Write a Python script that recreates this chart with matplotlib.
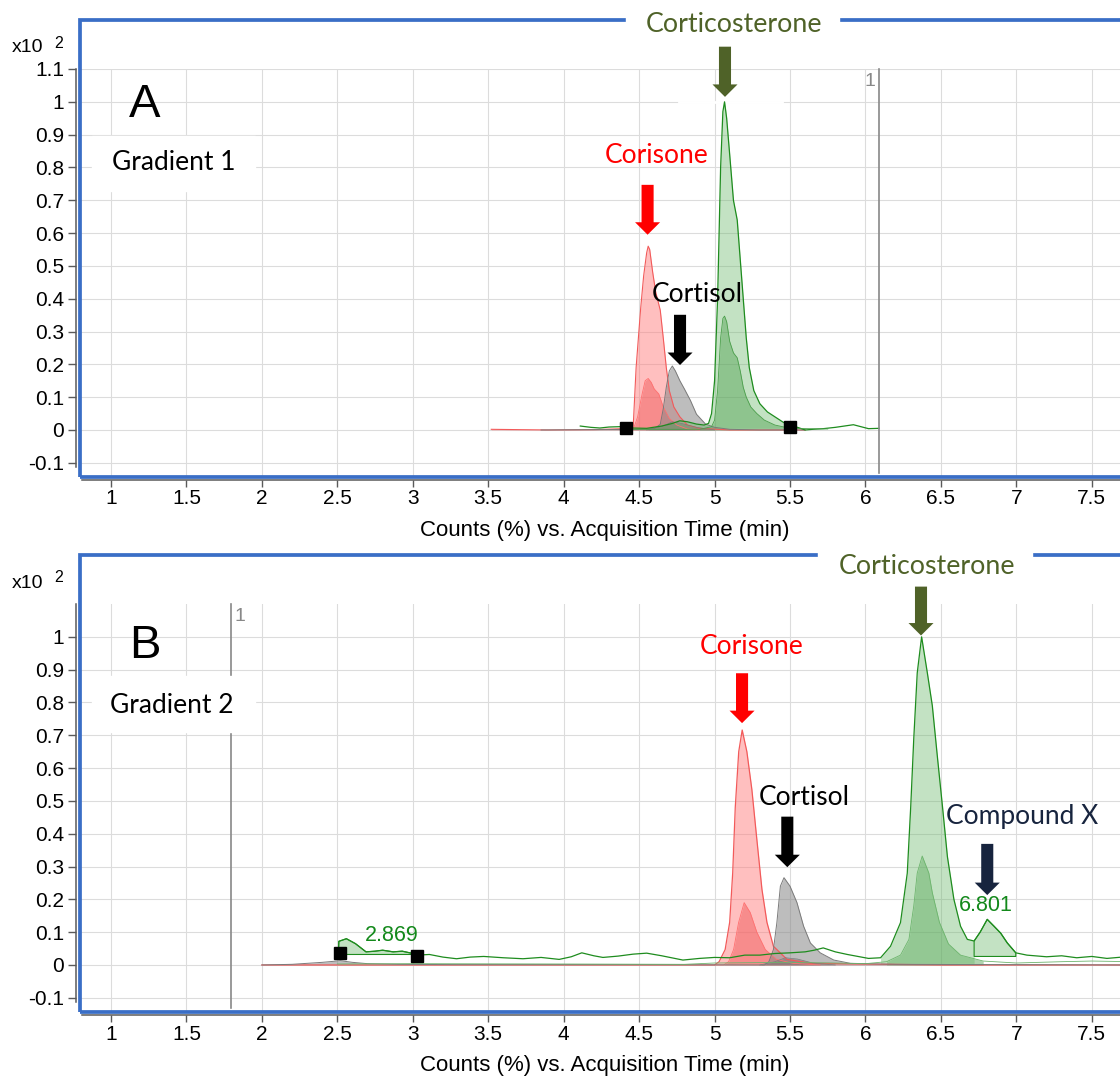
import numpy as np
import matplotlib.pyplot as plt
from matplotlib.patches import Rectangle, FancyArrow

plt.rcParams["font.family"] = ["Liberation Sans", "DejaVu Sans"]
NOTE_FONT = ["Lato", "DejaVu Sans"]

X_TICKS = [1, 1.5, 2, 2.5, 3, 3.5, 4, 4.5, 5, 5.5, 6, 6.5, 7, 7.5]
Y_TICKS_A = [-0.1, 0, 0.1, 0.2, 0.3, 0.4, 0.5, 0.6, 0.7, 0.8, 0.9, 1.0, 1.1]
Y_TICKS_B = [-0.1, 0, 0.1, 0.2, 0.3, 0.4, 0.5, 0.6, 0.7, 0.8, 0.9, 1.0]
XLABEL = "Counts (%) vs. Acquisition Time (min)"

# ---------------- Panel A (Gradient 1): time (min) / counts (x10^2 %) ----------------
a_cortisone_t = [3.52, 3.9, 4.2, 4.46, 4.48, 4.50, 4.51, 4.53, 4.55, 4.56, 4.57, 4.59, 4.61,
                 4.64, 4.66, 4.68, 4.70, 4.73, 4.77, 4.82, 4.90, 5.1, 5.4, 5.6]
a_cortisone_v = [0.002, 0.0, 0.001, 0.005, 0.19, 0.31, 0.37, 0.47, 0.54, 0.56, 0.55, 0.48, 0.42,
                 0.365, 0.28, 0.19, 0.12, 0.07, 0.04, 0.015, 0.005, 0.0, 0.0, 0.0]
a_cortisone2_t = [4.46, 4.49, 4.52, 4.54, 4.56, 4.58, 4.60, 4.63, 4.66, 4.70, 4.75, 4.82, 4.90]
a_cortisone2_v = [0.0, 0.04, 0.11, 0.15, 0.157, 0.145, 0.125, 0.11, 0.07, 0.035, 0.015, 0.003, 0.0]

a_cortisol_t = [3.85, 4.2, 4.5, 4.60, 4.64, 4.66, 4.68, 4.70, 4.72, 4.74, 4.77, 4.80, 4.84,
                4.88, 4.94, 5.00, 5.10, 5.3, 5.6]
a_cortisol_v = [0.0, 0.001, 0.002, 0.004, 0.017, 0.065, 0.13, 0.18, 0.195, 0.18, 0.15, 0.125, 0.09,
                0.048, 0.018, 0.008, 0.002, 0.0, 0.0]
a_cortisol2_t = [4.55, 4.65, 4.72, 4.78, 4.88, 5.0]
a_cortisol2_v = [0.0, 0.01, 0.025, 0.02, 0.008, 0.0]

a_cortico_t = [4.11, 4.18, 4.24, 4.30, 4.37, 4.45, 4.55, 4.65, 4.72, 4.77, 4.82, 4.88, 4.93,
               4.96, 4.98, 5.00, 5.02, 5.04, 5.055, 5.066, 5.08, 5.10, 5.125, 5.15, 5.17, 5.19,
               5.21, 5.23, 5.26, 5.30, 5.35, 5.40, 5.45, 5.50, 5.55, 5.60, 5.65, 5.72, 5.80,
               5.86, 5.92, 5.97, 6.02, 6.09]
a_cortico_v = [0.012, 0.008, 0.006, 0.009, 0.010, 0.006, 0.005, 0.012, 0.020, 0.028, 0.025, 0.018, 0.015,
               0.02, 0.05, 0.15, 0.40, 0.80, 0.97, 1.0, 0.95, 0.84, 0.70, 0.64, 0.52, 0.40,
               0.28, 0.19, 0.12, 0.08, 0.055, 0.04, 0.025, 0.012, 0.008, 0.0, 0.002, 0.004, 0.008,
               0.012, 0.016, 0.010, 0.004, 0.005]
a_cortico2_t = [4.40, 4.90, 4.98, 5.00, 5.02, 5.04, 5.055, 5.066, 5.08, 5.10, 5.125, 5.15, 5.17,
                5.19, 5.21, 5.24, 5.28, 5.33, 5.40, 5.50, 5.75]
a_cortico2_v = [0.002, 0.002, 0.01, 0.03, 0.12, 0.28, 0.34, 0.347, 0.33, 0.27, 0.235, 0.22, 0.18,
                0.13, 0.10, 0.07, 0.05, 0.03, 0.015, 0.005, 0.003]
a_marks_t = [4.41, 5.50]
a_marks_v = [0.005, 0.008]

# ---------------- Panel B (Gradient 2) ----------------
b_cortisone_t = [2.0, 3.0, 4.0, 5.00, 5.03, 5.07, 5.10, 5.12, 5.137, 5.16, 5.183, 5.214, 5.247,
                 5.28, 5.314, 5.347, 5.39, 5.48, 5.64, 6.5, 7.76]
b_cortisone_v = [0.0, 0.0, 0.0, 0.0, 0.01, 0.047, 0.13, 0.28, 0.48, 0.65, 0.716, 0.65, 0.535,
                 0.383, 0.23, 0.13, 0.057, 0.017, 0.005, 0.0, 0.0]
b_cortisone2_t = [5.0, 5.06, 5.093, 5.126, 5.159, 5.196, 5.236, 5.28, 5.336, 5.41, 5.52, 5.7]
b_cortisone2_v = [0.0, 0.0, 0.01, 0.047, 0.129, 0.19, 0.16, 0.10, 0.047, 0.017, 0.005, 0.0]

b_cortisol_t = [2.0, 2.2, 2.4, 2.52, 2.6, 2.7, 2.9, 3.3, 4.5, 5.33, 5.36, 5.39, 5.413, 5.436,
                5.46, 5.50, 5.546, 5.59, 5.635, 5.70, 5.79, 5.90, 6.2, 7.0, 7.76]
b_cortisol_v = [0.0, 0.002, 0.008, 0.013, 0.008, 0.004, 0.002, 0.001, 0.001, 0.0, 0.01, 0.047, 0.13, 0.24,
                0.266, 0.24, 0.19, 0.118, 0.067, 0.037, 0.015, 0.005, 0.002, 0.001, 0.0]
b_cortisol2_t = [5.3, 5.4, 5.47, 5.55, 5.65, 5.8]
b_cortisol2_v = [0.0, 0.01, 0.022, 0.018, 0.006, 0.0]

b_cortico_t = [2.507, 2.51, 2.56, 2.62, 2.69, 2.75, 2.80, 2.87, 2.93, 3.00, 3.03, 3.11, 3.20,
               3.29, 3.38, 3.47, 3.60, 3.73, 3.85, 3.97, 4.05, 4.12, 4.20, 4.26, 4.36, 4.46,
               4.55, 4.65, 4.79, 4.90, 5.00, 5.10, 5.20, 5.30, 5.40, 5.50, 5.60, 5.66, 5.72,
               5.80, 5.88, 5.95, 6.02, 6.10, 6.166, 6.232, 6.277, 6.30, 6.32, 6.343, 6.372,
               6.41, 6.443, 6.476, 6.51, 6.543, 6.586, 6.63, 6.675, 6.72, 6.76, 6.807, 6.852,
               6.896, 6.94, 6.996, 7.07, 7.2, 7.3, 7.4, 7.5, 7.6, 7.7, 7.76]
b_cortico_v = [0.035, 0.072, 0.08, 0.065, 0.04, 0.042, 0.045, 0.04, 0.042, 0.035, 0.03, 0.032, 0.024,
               0.019, 0.024, 0.026, 0.022, 0.019, 0.023, 0.017, 0.025, 0.037, 0.028, 0.023, 0.027, 0.033,
               0.036, 0.028, 0.015, 0.02, 0.023, 0.022, 0.03, 0.03, 0.035, 0.037, 0.04, 0.045, 0.052,
               0.04, 0.032, 0.026, 0.02, 0.022, 0.057, 0.129, 0.28, 0.484, 0.69, 0.89, 1.0,
               0.89, 0.79, 0.637, 0.484, 0.33, 0.20, 0.118, 0.078, 0.073, 0.10, 0.139, 0.118,
               0.097, 0.067, 0.037, 0.03, 0.025, 0.028, 0.022, 0.026, 0.02, 0.024, 0.022]
b_cortico2_t = [2.5, 3.0, 4.0, 4.8, 5.0, 5.5, 5.8, 6.0, 6.14, 6.232, 6.288, 6.32, 6.343, 6.376,
                6.42, 6.443, 6.49, 6.55, 6.63, 6.78, 7.0, 7.3, 7.5, 7.76]
b_cortico2_v = [0.003, 0.004, 0.003, 0.002, 0.006, 0.008, 0.006, 0.004, 0.01, 0.03, 0.078, 0.18, 0.28, 0.332,
                0.28, 0.22, 0.13, 0.064, 0.03, 0.012, 0.006, 0.01, 0.012, 0.01]
b_marks_t = [2.52, 3.03]
b_marks_v = [0.035, 0.028]

RED, RED_LINE = "#ff8080", "#f25a5a"
GRAY, GRAY_LINE = "#888888", "#7a7a7a"
GREEN, GREEN_DARK, GREEN_LINE = "#6ab86a", "#4fa04f", "#1e8c1e"
OLIVE, NAVY, TXT_GREEN = "#4f6228", "#17243e", "#13891b"
BLUE = "#3a6ec6"


def style_axes(ax, yticks):
    ax.set_xlim(0.7946, 7.753)
    ax.set_ylim(-0.1433, 1.1)
    ax.set_xticks(X_TICKS)
    ax.set_xticklabels([f"{x:g}" for x in X_TICKS])
    ax.set_yticks(yticks)
    ax.set_yticklabels([f"{y:g}" for y in yticks])
    ax.grid(True, color="#dcdcdc", lw=0.8)
    ax.set_axisbelow(True)
    for s in ("top", "right"):
        ax.spines[s].set_visible(False)
    for s in ("left", "bottom"):
        ax.spines[s].set_color("#5a5a5a")
        ax.spines[s].set_linewidth(1.1)
    ax.spines["left"].set_position(("outward", 3))
    ax.spines["bottom"].set_position(("outward", 2))
    ax.spines["left"].set_bounds(-0.112, 1.1)
    ax.spines["bottom"].set_bounds(0.805, 7.753)
    ax.tick_params(axis="y", direction="out", length=6, width=1, color="#5a5a5a", pad=2.5, labelsize=15)
    ax.tick_params(axis="x", direction="out", length=5, width=1, color="#5a5a5a", pad=2, labelsize=15)
    ax.set_xlabel(XLABEL, fontsize=16)
    ax.xaxis.set_label_coords(0.5, -0.13)
    ax.xaxis.label.set_va("center")
    ax.add_patch(Rectangle((0, 0), 1.2, 1.12, transform=ax.transAxes, fill=False,
                           ec=BLUE, lw=2.7, clip_on=False, zorder=6))


def peak(ax, t, v, fill, alpha, line, lw, base=0.0, lo=None, hi=None, edge=False):
    t = np.asarray(t)
    v = np.asarray(v)
    mask = np.ones_like(t, dtype=bool)
    if lo is not None:
        mask = (t >= lo) & (t <= hi)
    ax.fill_between(t, v, base, where=mask, color=fill, alpha=alpha, lw=0, zorder=2)
    if edge:
        ax.fill_between(t, v, base, where=mask, facecolor="none", edgecolor=line, lw=0.8, zorder=3)
    ax.plot(t, v, color=line, lw=lw, zorder=3)


def arrow(ax, t, v_top, v_tip, color):
    ax.add_patch(FancyArrow(t, v_top, 0, v_tip - v_top, width=0.08, head_width=0.166,
                            head_length=0.038, length_includes_head=True, color=color,
                            lw=0, clip_on=False, zorder=7))


def note(ax, t, v, s, color, size=19, family=NOTE_FONT):
    ax.text(t, v, s, color=color, fontsize=size, family=family, ha="center", va="center",
            zorder=8, clip_on=False)


def top_label(ax, t0, t1, tc, vc):
    ax.add_patch(Rectangle((t0, 1.2), t1 - t0, 0.09, color="white", clip_on=False, zorder=7))
    note(ax, tc, vc, "Corticosterone", OLIVE, size=19.3)


fig = plt.figure(figsize=(11.2, 10.76), dpi=100)
axA = fig.add_axes([80 / 1120, (1076 - 477) / 1076, 1050 / 1120, 408 / 1076])
axB = fig.add_axes([80 / 1120, (1076 - 1012) / 1076, 1050 / 1120, 408 / 1076])
style_axes(axA, Y_TICKS_A)
style_axes(axB, Y_TICKS_B)

# ---- panel A ----
ax = axA
peak(ax, a_cortisone_t, a_cortisone_v, RED, 0.5, RED_LINE, 0.8)
peak(ax, a_cortisone2_t, a_cortisone2_v, "#f05a5a", 0.5, "#ff7070", 0.6)
peak(ax, a_cortisol_t, a_cortisol_v, GRAY, 0.55, GRAY_LINE, 0.7)
peak(ax, a_cortisol2_t, a_cortisol2_v, "#707070", 0.5, GRAY_LINE, 0.5)
peak(ax, a_cortico_t, a_cortico_v, GREEN, 0.4, GREEN_LINE, 0.9, base=0.005, lo=4.41, hi=5.50)
peak(ax, a_cortico2_t, a_cortico2_v, GREEN_DARK, 0.45, "#4a9e4a", 0.6, lo=4.9, hi=5.5)
ax.plot(a_marks_t, a_marks_v, "s", color="black", ms=8, zorder=5)
ax.plot([4.764, 5.447], [1.0, 1.0], color="white", lw=2, zorder=0.9)
ax.plot([6.089, 6.089], [-0.13, 1.1], color="#888888", lw=1.2, zorder=4, clip_on=False)
ax.text(6.03, 1.061, "1", color="#888888", fontsize=14, ha="center", va="center")
ax.add_patch(Rectangle((0.874, 0.729), 1.08, 0.167, color="white", zorder=4))
note(ax, 1.225, 0.991, "A", "black", size=34, family=["Liberation Sans"])
note(ax, 1.417, 0.814, "Gradient 1", "black")
top_label(ax, 4.413, 5.824, 5.132, 1.235)
arrow(ax, 5.069, 1.168, 1.015, OLIVE)
note(ax, 4.618, 0.835, "Corisone", "#ff0000")
arrow(ax, 4.556, 0.747, 0.595, "#ff0000")
note(ax, 4.883, 0.412, "Cortisol", "black")
arrow(ax, 4.771, 0.351, 0.198, "black")

# ---- panel B ----
ax = axB
peak(ax, b_cortisone_t, b_cortisone_v, RED, 0.5, RED_LINE, 0.9)
peak(ax, b_cortisone2_t, b_cortisone2_v, "#f05a5a", 0.5, "#ff7070", 0.6)
peak(ax, b_cortisol_t, b_cortisol_v, GRAY, 0.55, GRAY_LINE, 0.7)
peak(ax, b_cortisol2_t, b_cortisol2_v, "#707070", 0.5, GRAY_LINE, 0.5)
peak(ax, b_cortico2_t, b_cortico2_v, GREEN_DARK, 0.45, "#6cb46c", 0.6, lo=6.08, hi=6.9)
peak(ax, b_cortico_t, b_cortico_v, GREEN, 0.4, GREEN_LINE, 0.9, base=0.005, lo=6.08, hi=6.72)
peak(ax, b_cortico_t, b_cortico_v, GREEN, 0.4, GREEN_LINE, 0.0, base=0.026, lo=6.72, hi=6.996, edge=True)
peak(ax, b_cortico_t, b_cortico_v, GREEN, 0.4, GREEN_LINE, 0.0, base=0.032, lo=2.507, hi=3.03, edge=True)
ax.plot(b_marks_t, b_marks_v, "s", color="black", ms=8, zorder=5)
ax.plot([1.795, 1.795], [-0.131, 1.1], color="#888888", lw=1.2, zorder=3, clip_on=False)
ax.text(1.855, 1.061, "1", color="#888888", fontsize=14, ha="center", va="center")
ax.add_patch(Rectangle((0.874, 0.710), 1.08, 0.171, color="white", zorder=4))
note(ax, 1.225, 0.973, "B", "black", size=34, family=["Liberation Sans"])
note(ax, 1.404, 0.790, "Gradient 2", "black")
top_label(ax, 5.685, 7.103, 6.408, 1.213)
arrow(ax, 6.368, 1.153, 1.004, OLIVE)
note(ax, 5.248, 0.970, "Corisone", "#ff0000")
arrow(ax, 5.182, 0.889, 0.737, "#ff0000")
note(ax, 5.592, 0.509, "Cortisol", "black")
arrow(ax, 5.482, 0.452, 0.298, "black")
note(ax, 7.037, 0.451, "Compound X", NAVY)
arrow(ax, 6.807, 0.369, 0.213, NAVY)
note(ax, 6.798, 0.180, "6.801", TXT_GREEN, size=15.5, family=["Liberation Sans"])
note(ax, 2.862, 0.091, "2.869", TXT_GREEN, size=15.5, family=["Liberation Sans"])

# exponent labels above each y axis
for y_px in (48, 583):
    fig.text(12 / 1120, 1 - y_px / 1076, "x10", fontsize=14, ha="left", va="center")
    fig.text(54 / 1120, 1 - (y_px - 5) / 1076, "2", fontsize=11.5, ha="left", va="center")

fig.savefig("out.png", dpi=100)
